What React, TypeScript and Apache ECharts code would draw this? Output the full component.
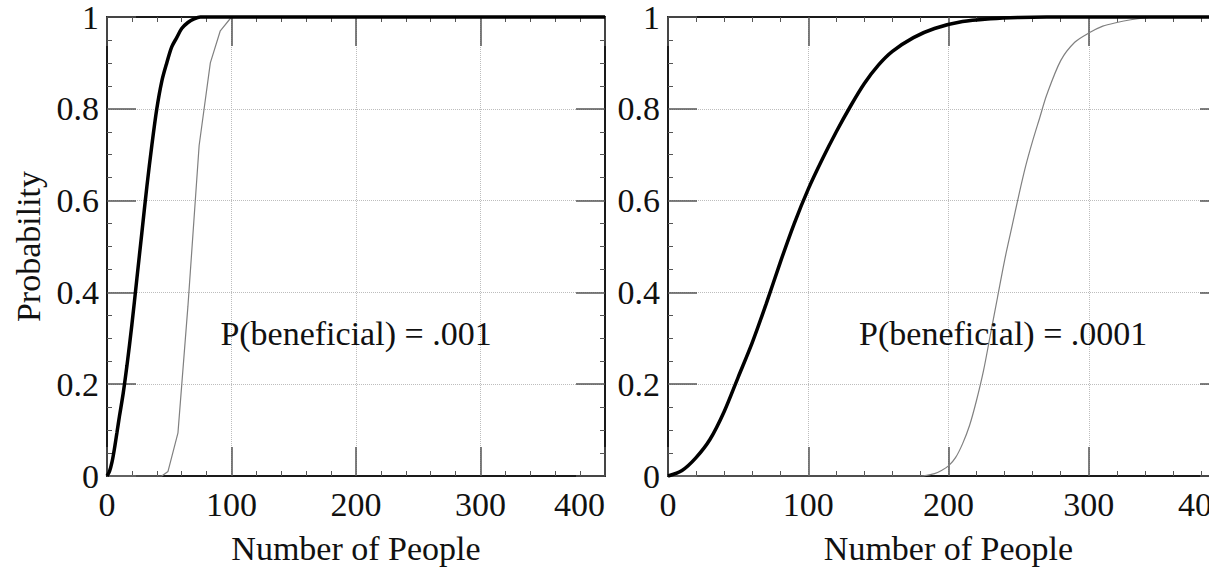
import React, { useEffect, useRef } from "react";
import * as echarts from "echarts";

// ---- data ----
const xTickLabels = ["0", "100", "200", "300", "400"];
const yTickLabels = ["0", "0.2", "0.4", "0.6", "0.8", "1"];
const xName = "Number of People";
const yName = "Probability";
const annotLeft = "P(beneficial) = .001";
const annotRight = "P(beneficial) = .0001";
const annotLeftAt = [200, 0.31];
const annotRightAt = [239, 0.31];

// Left panel (P = .001)
const leftThickX = [0, 2, 4, 6, 8, 10, 13, 16, 20, 24, 28, 32, 36, 40, 44, 48, 52, 56, 60, 65, 70, 75, 80, 400];
const leftThickY = [0, 0.01, 0.03, 0.06, 0.095, 0.13, 0.18, 0.24, 0.33, 0.43, 0.53, 0.63, 0.72, 0.8, 0.86, 0.9, 0.935, 0.955, 0.975, 0.988, 0.996, 1, 1, 1];
const leftThinX = [0, 44, 49, 57, 65, 74, 83, 91, 100, 400];
const leftThinY = [0, 0, 0.01, 0.094, 0.37, 0.72, 0.9, 0.97, 1, 1];

// Right panel (P = .0001)
const rightThickX = [0, 10, 20, 30, 40, 50, 60, 70, 80, 90, 100, 110, 120, 130, 140, 150, 160, 175, 190, 210, 230, 250, 270, 400];
const rightThickY = [0, 0.012, 0.04, 0.08, 0.14, 0.215, 0.29, 0.375, 0.465, 0.55, 0.625, 0.69, 0.75, 0.805, 0.855, 0.895, 0.925, 0.955, 0.975, 0.99, 0.996, 0.999, 1, 1];
const rightThinX = [0, 180, 190, 195, 200, 205, 210, 215, 220, 225, 230, 235, 240, 245, 250, 255, 260, 265, 270, 280, 290, 300, 310, 320, 330, 340, 350, 400];
const rightThinY = [0, 0, 0.005, 0.012, 0.022, 0.04, 0.07, 0.11, 0.165, 0.23, 0.31, 0.39, 0.47, 0.54, 0.61, 0.675, 0.73, 0.78, 0.83, 0.905, 0.945, 0.965, 0.98, 0.988, 0.994, 0.998, 1, 1];

const pairs = (xs: number[], ys: number[]) => xs.map((x, i) => [x, ys[i]]);

const FONT = "Liberation Serif";
const FS = 34;

function xAxisDef(grid: number, top: boolean, withName: boolean) {
  return {
    type: "value",
    gridIndex: grid,
    position: top ? "top" : "bottom",
    min: 0,
    max: 400,
    interval: 100,
    axisLine: { show: true, onZero: false, lineStyle: { color: "#1a1a1a", width: 2 } },
    axisTick: { show: true, inside: true, length: 29, lineStyle: { color: "#555", width: 1.5 } },
    minorTick: { show: true, splitNumber: 5, length: 5, lineStyle: { color: "#555", width: 1 } },
    axisLabel: {
      show: !top,
      margin: 11,
      fontFamily: FONT,
      fontSize: FS,
      color: "#111",
      alignMaxLabel: "right",
      formatter: (v: number) => xTickLabels[Math.round(v / 100)] ?? String(v),
    },
    splitLine: top
      ? { show: false }
      : { show: true, lineStyle: { type: "dotted", color: "#bdbdbd", width: 1 } },
    name: withName ? xName : "",
    nameLocation: "middle",
    nameGap: 55,
    nameTextStyle: { fontFamily: FONT, fontSize: FS, color: "#111" },
  };
}

function yAxisDef(grid: number, right: boolean, withName: boolean) {
  return {
    type: "value",
    gridIndex: grid,
    position: right ? "right" : "left",
    min: 0,
    max: 1,
    interval: 0.2,
    axisLine: { show: true, onZero: false, lineStyle: { color: "#1a1a1a", width: 2 } },
    axisTick: { show: true, inside: true, length: 29, lineStyle: { color: "#555", width: 1.5 } },
    minorTick: { show: true, splitNumber: 4, length: 5, lineStyle: { color: "#555", width: 1 } },
    axisLabel: {
      show: !right,
      margin: 8,
      fontFamily: FONT,
      fontSize: FS,
      color: "#111",
      formatter: (v: number) => yTickLabels[Math.round(v / 0.2)] ?? String(v),
    },
    splitLine: right
      ? { show: false }
      : { show: true, lineStyle: { type: "dotted", color: "#bdbdbd", width: 1 } },
    name: withName ? yName : "",
    nameLocation: "middle",
    nameGap: 62,
    nameTextStyle: { fontFamily: FONT, fontSize: FS, color: "#111" },
  };
}

function annotation(text: string, at: number[]) {
  return {
    symbol: "circle",
    symbolSize: 0,
    silent: true,
    data: [
      {
        coord: at,
        label: {
          show: true,
          position: "inside",
          formatter: text,
          fontFamily: FONT,
          fontSize: FS,
          color: "#111",
        },
      },
    ],
  };
}

export default function App() {
  const ref = useRef<HTMLDivElement>(null);

  useEffect(() => {
    if (!ref.current) return;
    const chart = echarts.init(ref.current, undefined, { renderer: "svg" });
    const thick = { color: "#000", width: 3.5 };
    const thin = { color: "#808080", width: 1.2 };
    chart.setOption({
      animation: false,
      backgroundColor: "#fff",
      grid: [
        { left: 107, top: 17, width: 498, height: 459, containLabel: false, outerBoundsMode: "none" },
        { left: 668, top: 17, width: 561, height: 459, containLabel: false, outerBoundsMode: "none" },
      ],
      xAxis: [xAxisDef(0, false, true), xAxisDef(0, true, false), xAxisDef(1, false, true), xAxisDef(1, true, false)],
      yAxis: [yAxisDef(0, false, true), yAxisDef(0, true, false), yAxisDef(1, false, false), yAxisDef(1, true, false)],
      series: [
        {
          type: "line",
          xAxisIndex: 0,
          yAxisIndex: 0,
          data: pairs(leftThinX, leftThinY),
          showSymbol: false,
          symbol: "none",
          smooth: false,
          lineStyle: thin,
          clip: false,
          z: 3,
          markPoint: annotation(annotLeft, annotLeftAt),
        },
        {
          type: "line",
          xAxisIndex: 0,
          yAxisIndex: 0,
          data: pairs(leftThickX, leftThickY),
          showSymbol: false,
          symbol: "none",
          smooth: 0.3,
          lineStyle: thick,
          clip: false,
          z: 4,
        },
        {
          type: "line",
          xAxisIndex: 2,
          yAxisIndex: 2,
          data: pairs(rightThinX, rightThinY),
          showSymbol: false,
          symbol: "none",
          smooth: 0.3,
          lineStyle: thin,
          clip: false,
          z: 3,
          markPoint: annotation(annotRight, annotRightAt),
        },
        {
          type: "line",
          xAxisIndex: 2,
          yAxisIndex: 2,
          data: pairs(rightThickX, rightThickY),
          showSymbol: false,
          symbol: "none",
          smooth: 0.3,
          lineStyle: thick,
          clip: false,
          z: 4,
        },
      ],
    });
    return () => chart.dispose();
  }, []);

  return (
    <div
      style={{
        position: "absolute",
        left: 0,
        top: 0,
        width: 1209,
        height: 567,
        overflow: "hidden",
        background: "#fff",
      }}
    >
      <div ref={ref} style={{ width: 1260, height: 567 }} />
    </div>
  );
}
